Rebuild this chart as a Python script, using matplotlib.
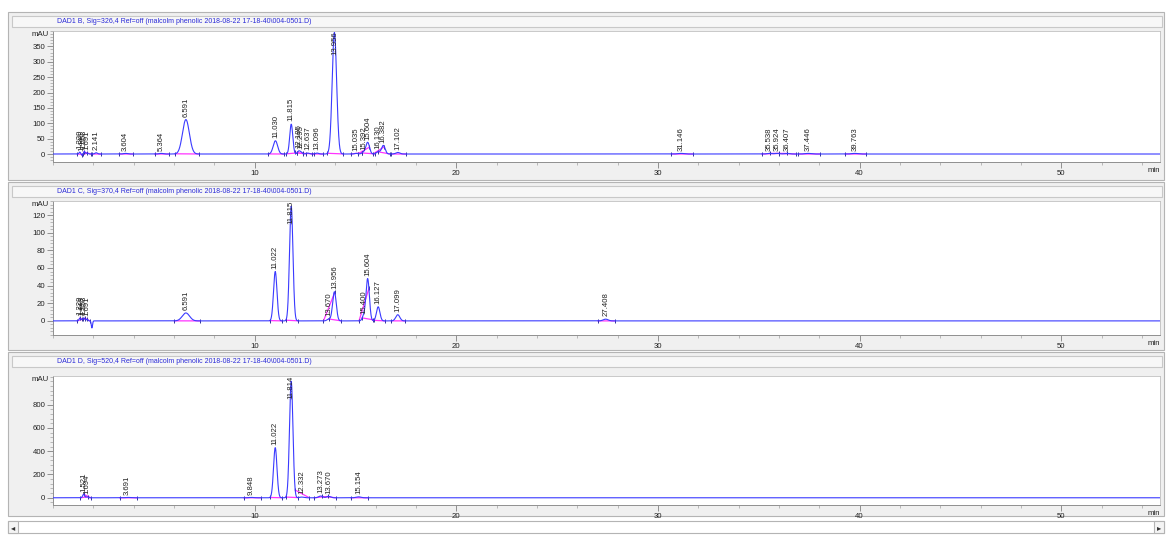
import numpy as np
import matplotlib
matplotlib.use('Agg')
import matplotlib.pyplot as plt
from matplotlib.patches import Rectangle
from matplotlib.ticker import MultipleLocator, FixedLocator

plt.rcParams['font.family'] = ['Liberation Sans', 'DejaVu Sans']

# ---------------- data ----------------
titles = [
    "DAD1 B, Sig=326,4 Ref=off (malcolm phenolic 2018-08-22 17-18-40\\004-0501.D)",
    "DAD1 C, Sig=370,4 Ref=off (malcolm phenolic 2018-08-22 17-18-40\\004-0501.D)",
    "DAD1 D, Sig=520,4 Ref=off (malcolm phenolic 2018-08-22 17-18-40\\004-0501.D)",
]

# Panel B (326 nm)
b_times = [1.329, 1.446, 1.553, 1.691, 2.141, 3.604, 5.364, 6.591, 11.030, 11.815,
           12.185, 12.295, 12.637, 13.096, 13.956, 15.035, 15.392, 15.604, 16.130,
           16.382, 17.102, 31.146, 35.538, 35.924, 36.407, 37.446, 39.763]
b_labels = ["1.329", "1.446", "1.553", "1.691", "2.141", "3.604", "5.364", "6.591",
            "11.030", "11.815", "12.185", "12.295", "12.637", "13.096", "13.956",
            "15.035", "15.392", "15.604", "16.130", "16.382", "17.102", "31.146",
            "35.538", "35.924", "36.407", "37.446", "39.763"]
b_heights = [6, -4, 8, 3, 4, 2, 2, 112, 43, 97, 9, 6, 3, 3, 395, 2, 5, 38, 8, 28, 5,
             2, 2, 2, 2, 2, 2]
b_sigma = [0.04, 0.04, 0.04, 0.05, 0.06, 0.1, 0.1, 0.17, 0.11, 0.075, 0.06, 0.06, 0.08,
           0.08, 0.11, 0.08, 0.08, 0.09, 0.08, 0.09, 0.1, 0.15, 0.12, 0.12, 0.12,
           0.15, 0.15]

# Panel C (370 nm)
c_times = [1.329, 1.446, 1.553, 1.691, 1.930, 6.591, 11.022, 11.815, 13.670, 13.956,
           15.400, 15.604, 16.127, 17.099, 27.408]
c_labels = ["1.329", "1.446", "1.553", "1.691", "", "6.591", "11.022", "11.815",
            "13.670", "13.956", "15.400", "15.604", "16.127", "17.099", "27.408"]
c_heights = [3, 2, 3, 2, -8, 9, 56, 130, 2, 33, 5, 48, 16, 7, 2]
c_sigma = [0.04, 0.04, 0.04, 0.04, 0.03, 0.18, 0.085, 0.085, 0.08, 0.09, 0.07, 0.085,
           0.085, 0.1, 0.12]

# Panel D (520 nm)
d_times = [1.521, 1.694, 3.691, 9.848, 11.022, 11.814, 12.332, 13.273, 13.670, 15.154]
d_labels = ["1.521", "1.694", "3.691", "9.848", "11.022", "11.814", "12.332",
            "13.273", "13.670", "15.154"]
d_heights = [30, 8, 3, 3, 430, 1000, 6, 15, 12, 8]
d_sigma = [0.05, 0.05, 0.12, 0.12, 0.085, 0.085, 0.1, 0.1, 0.1, 0.12]

x_range = (0.0, 54.9)
y_ranges = [(-26, 400), (-16, 136), (-62, 1045)]
y_major = [[0, 50, 100, 150, 200, 250, 300, 350],
           [0, 20, 40, 60, 80, 100, 120],
           [0, 200, 400, 600, 800]]
y_minor_step = [10, 4, 40]
x_major = [10, 20, 30, 40, 50]

# ---------------- layout (pixel based) ----------------
W, H = 1166, 536
fig = plt.figure(figsize=(W / 100, H / 100), dpi=100)
fig.patch.set_facecolor('#ffffff')

bg = fig.add_axes([0, 0, 1, 1])
bg.set_xlim(0, W)
bg.set_ylim(H, 0)
bg.axis('off')

frames = [(12, 180), (182, 350), (352, 516)]
title_bars = [(16, 27), (186, 197), (356, 367)]
plot_areas = [(31, 162), (201, 335), (376, 505)]
LEFT, RIGHT = 53, 1160

for (ft, fb), (tt, tb) in zip(frames, title_bars):
    bg.add_patch(Rectangle((8, ft), 1156, fb - ft, facecolor='#f0f0f0',
                           edgecolor='#b4b4b4', lw=0.8))
    bg.add_patch(Rectangle((12, tt), 1150, tb - tt, facecolor='#f7f7f7',
                           edgecolor='#c8c8c8', lw=0.8))

# scroll bar
bg.add_patch(Rectangle((8, 521), 1156, 12, facecolor='#ffffff', edgecolor='#b4b4b4', lw=0.8))
bg.add_patch(Rectangle((8, 521), 10, 12, facecolor='#f4f4f4', edgecolor='#b4b4b4', lw=0.8))
bg.add_patch(Rectangle((1154, 521), 10, 12, facecolor='#f4f4f4', edgecolor='#b4b4b4', lw=0.8))
bg.text(13, 527.5, '\u25c2', ha='center', va='center', fontsize=6, color='#333333',
        family='DejaVu Sans')
bg.text(1159, 527.5, '\u25b8', ha='center', va='center', fontsize=6, color='#333333',
        family='DejaVu Sans')

panels = [
    (b_times, b_labels, b_heights, b_sigma),
    (c_times, c_labels, c_heights, c_sigma),
    (d_times, d_labels, d_heights, d_sigma),
]

t = np.linspace(x_range[0], x_range[1], 12000)
trace_color = '#3a3aff'
base_color = '#ff33ff'
fs = 5.6

for i, ((pt, pb), (tt, tb)) in enumerate(zip(plot_areas, title_bars)):
    times, labels, heights, sigmas = panels[i]
    ax = fig.add_axes([LEFT / W, (H - pb) / H, (RIGHT - LEFT) / W, (pb - pt) / H])
    ax.set_facecolor('white')
    ax.set_xlim(*x_range)
    ax.set_ylim(*y_ranges[i])

    sig = np.zeros_like(t)
    for t0, h, s in zip(times, heights, sigmas):
        sig += h * np.exp(-0.5 * ((t - t0) / s) ** 2)

    # integration baselines
    for t0, h, s in zip(times, heights, sigmas):
        if h <= 0:
            continue
        x0, x1 = t0 - 3.2 * s, t0 + 3.8 * s
        y0, y1 = np.interp([x0, x1], t, sig)
        ax.plot([x0, x1], [y0, y1], color=base_color, lw=0.9, zorder=2)
        ax.plot([x0], [y0], marker='|', color='#333399', ms=3.5, mew=0.7, zorder=3)
        ax.plot([x1], [y1], marker='|', color='#333399', ms=3.5, mew=0.7, zorder=3)

    ax.plot(t, sig, color=trace_color, lw=0.8, zorder=4)

    ymax = y_ranges[i][1]
    for t0, h, lab in zip(times, heights, labels):
        if not lab:
            continue
        if h > 0.7 * ymax:
            ax.text(t0, ymax, lab, rotation=90, ha='center', va='top',
                    fontsize=fs, color='#222222', zorder=5)
        else:
            ax.annotate(lab, xy=(t0, max(h, 0)), xytext=(0, 2),
                        textcoords='offset points', rotation=90, ha='center',
                        va='bottom', fontsize=fs, color='#222222', zorder=5)

    for side in ['top', 'right']:
        ax.spines[side].set_color('#c0c0c0')
        ax.spines[side].set_linewidth(0.6)
    for side in ['left', 'bottom']:
        ax.spines[side].set_color('#909090')
        ax.spines[side].set_linewidth(0.7)
    ax.xaxis.set_major_locator(FixedLocator(x_major))
    ax.xaxis.set_minor_locator(MultipleLocator(2))
    ax.yaxis.set_major_locator(FixedLocator(y_major[i]))
    ax.yaxis.set_minor_locator(MultipleLocator(y_minor_step[i]))
    ax.tick_params(axis='both', which='major', direction='out', length=4, width=0.6,
                   color='#808080', labelsize=fs, labelcolor='#222222', pad=1.5)
    ax.tick_params(axis='both', which='minor', direction='out', length=2, width=0.5,
                   color='#a0a0a0')
    ax.text(-0.004, 1.0, 'mAU', transform=ax.transAxes, ha='right', va='top',
            fontsize=fs, color='#222222')
    ax.text(1.0, -0.035, 'min', transform=ax.transAxes, ha='right', va='top',
            fontsize=fs, color='#222222')

    bg.text(57, (tt + tb) / 2, titles[i], ha='left', va='center', fontsize=5.0,
            color='#2a2ad8')

fig.savefig('out.png', dpi=100, facecolor=fig.get_facecolor())
